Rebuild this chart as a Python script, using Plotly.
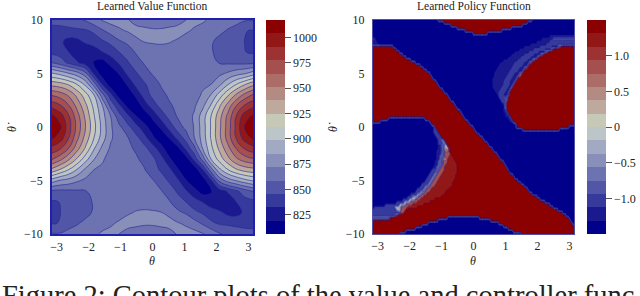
import numpy as np
import plotly.graph_objects as go

TITLE_VALUE = "Learned Value Function"
TITLE_POLICY = "Learned Policy Function"
CAPTION = "Figure 2: Contour plots of the value and controller func"
BAND_COLORS = ["#00008b", "#1a1a8e", "#363a9c", "#5156a6", "#6d72b0", "#888fb9", "#a2a9c3", "#bcc6c8",
               "#c6c8b8", "#bfa99d", "#b48b82", "#ac6d68", "#a64f4f", "#9c3232", "#921717", "#8b0000"]

THETA_VALUE = [-np.pi + k * np.pi / 12 for k in range(25)]
THETADOT_VALUE = list(range(-10, 11))

V_P10 = [850,851,853,856,860,868,873,877,877,873,868,866,864,864,866,869,872,874,873.5,870,865,863,862,860,860]
V_P9 = [841,841,842,843,844,848,857,864,870,873,876,875,874,874,875,875,873,871,868,865,861,858,855,846,845]
V_P8 = [839,835,828,829,835,839,844,849,857,862,869,872.5,873.5,873.5,872.5,871,869,866,864,860,856,854,851,845.5,844]
V_P7 = [842,840,832.5,825,822,825,832,838,845.5,851,860,864,866,868,869,868.5,868,866,864,860,855,853,851,846,844]
V_P6 = [859,852,843,834,826,818,813,824,834,844,852,860,864,867,868,869,869,868,867,860,858.5,857,856,855.5,856]
V_P5 = [900,894,886,878,863,831,812,808,820,835,844,852,860,864,867,868,869,869,868.5,868,869,874,880,884,892]
V_P4 = [933,930,923,911,895,866,832,810,807,821,836,844,851,860,864,866,867,868,869,872,882,897,911,923,934]
V_P3 = [963,958,949,934,917,899,864,837,812,808,822,838,849,855,861,864,865,866,874,886,904,923,940,955,966]
V_P2 = [986,979,965,947,928,908,886,855,836,815,809,825,839,850,857,862,865,870,882,900,923,943,964,979,987]
V_P1 = [1007,997,979,957,935,913,891,872,851,837,820,810,822,838,850,860,865,874,892,912,933,955,978,998,1006]
V_0 = [1015,1006,983,960,938,916,894,874,862,850,838,824,812,821,838,852,863,873,892,913,935,957,981,1005,1015]
V_M1 = [1006,998,978,955,933,912,892,874,865,860,850,838,822,810,820,837,851,872,891,913,935,957,979,997,1007]
V_M2 = [987,979,964,943,923,900,882,870,865,862,857,850,839,825,809,815,836,855,886,908,928,947,965,979,986]
V_M3 = [966,955,940,923,904,886,874,866,865,864,861,855,849,838,822,808,812,837,864,899,917,934,949,958,963]
V_M4 = [934,923,911,897,882,872,869,868,867,866,864,860,851,844,836,821,807,810,832,866,895,911,923,930,933]
V_M5 = [892,884,880,874,869,868,868.5,869,869,868,867,864,860,852,844,835,820,808,812,831,863,878,886,894,900]
V_M6 = [856,855.5,856,857,858.5,860,867,868,869,869,868,867,864,860,852,844,834,824,813,818,826,834,843,852,859]
V_M7 = [844,846,851,853,855,860,864,866,868,868.5,869,868,866,864,860,851,845.5,838,832,825,822,825,832.5,840,842]
V_M8 = [844,845.5,851,854,856,860,864,866,869,871,872.5,873.5,873.5,872.5,869,862,857,849,844,839,835,829,828,835,839]
V_M9 = [845,846,855,858,861,865,868,871,873,875,875,874,874,875,876,873,870,864,857,848,844,843,842,841,841]
V_M10 = [860,860,862,863,865,870,873.5,874,872,869,866,864,864,866,868,873,877,877,873,868,860,856,853,851,850]
VALUE_ROWS = [V_M10, V_M9, V_M8, V_M7, V_M6, V_M5, V_M4, V_M3, V_M2, V_M1, V_0,
              V_P1, V_P2, V_P3, V_P4, V_P5, V_P6, V_P7, V_P8, V_P9, V_P10]

# Policy: for each theta-dot row, runs of (theta where the run ends, action value) read left to right
B, R = -1.5, 1.5
POLICY_RUNS = {
    10.0: [(-1.11, B), (1.82, R), (4, B)],
    9.75: [(-0.92, B), (1.68, R), (4, B)],
    9.5: [(-0.74, B), (1.51, R), (4, B)],
    9.25: [(-0.53, B), (1.19, R), (4, B)],
    9.0: [(-0.27, B), (0.88, R), (4, B)],
    8.75: [(-0.03, B), (0.41, R), (4, B)],
    8.5: [(2.40, B), (4, -1.2)],
    8.25: [(-3.05, -1.1), (2.14, B), (2.50, -1.2), (4, -0.9)],
    8.0: [(-3.0, -1.2), (1.96, B), (2.40, -1.25), (4, -1.0)],
    7.75: [(-2.95, -1.2), (1.77, B), (2.29, -1.25), (2.71, -1.0), (4, -1.1)],
    7.5: [(-2.54, R), (1.56, B), (2.08, -1.25), (2.45, -1.0), (2.63, -1.2), (2.71, 0.8), (4, R)],
    7.25: [(-2.44, R), (1.42, B), (1.90, -1.25), (2.24, -1.0), (2.45, -1.2), (2.50, 0.8), (4, R)],
    7.0: [(-2.34, R), (1.30, B), (1.72, -1.25), (2.03, -1.0), (2.24, -1.2), (2.31, 0.8), (4, R)],
    6.75: [(-2.22, R), (1.19, B), (1.58, -1.25), (1.90, -1.0), (2.10, -1.2), (2.17, 0.8), (4, R)],
    6.5: [(-2.10, R), (1.09, B), (1.46, -1.25), (1.77, -1.0), (1.96, -1.2), (2.03, 0.8), (4, R)],
    6.25: [(-1.97, R), (0.95, B), (1.37, -1.25), (1.66, -1.0), (1.85, -1.2), (1.93, 0.8), (4, R)],
    6.0: [(-1.82, R), (0.83, B), (1.30, -1.25), (1.58, -1.0), (1.75, -1.2), (1.82, 0.8), (4, R)],
    5.75: [(-1.69, R), (0.77, B), (1.24, -1.25), (1.51, -1.0), (1.66, -1.2), (1.74, 0.8), (4, R)],
    5.5: [(-1.56, R), (0.72, B), (1.17, -1.25), (1.43, -1.0), (1.59, -1.2), (1.66, 0.8), (4, R)],
    5.25: [(-1.47, R), (0.68, B), (1.13, -1.25), (1.36, -1.0), (1.51, -1.2), (1.58, 0.8), (4, R)],
    5.0: [(-1.37, R), (0.64, B), (1.09, -1.25), (1.30, -1.0), (1.43, -1.2), (1.51, 0.8), (4, R)],
    4.75: [(-1.31, R), (0.61, B), (1.04, -1.25), (1.25, -1.0), (1.38, -1.2), (1.46, 0.8), (4, R)],
    4.5: [(-1.26, R), (0.59, B), (0.98, -1.25), (1.19, -1.0), (1.33, -1.2), (1.40, 0.8), (4, R)],
    4.25: [(-1.18, R), (0.58, B), (0.94, -1.25), (1.15, -1.0), (1.27, -1.2), (1.34, 0.8), (4, R)],
    4.0: [(-1.11, R), (0.57, B), (0.91, -1.25), (1.12, -1.0), (1.21, -1.2), (1.28, 0.8), (4, R)],
    3.75: [(-1.05, R), (0.59, B), (0.87, -1.25), (1.08, -1.0), (1.17, -1.2), (1.24, 0.8), (4, R)],
    3.5: [(-0.97, R), (0.62, B), (0.83, -1.25), (1.04, -1.0), (1.13, -1.2), (1.19, 0.8), (4, R)],
    3.25: [(-0.91, R), (0.67, B), (0.80, -1.25), (0.99, -1.0), (1.09, -1.2), (1.15, 0.8), (4, R)],
    3.0: [(-0.84, R), (0.72, B), (0.77, -1.25), (0.95, -1.0), (1.06, -1.2), (1.12, 0.8), (4, R)],
    2.75: [(-0.77, R), (0.77, B), (0.91, -1.1), (1.02, -0.9), (1.09, 0.8), (4, R)],
    2.5: [(-0.70, R), (0.83, B), (0.96, -1.1), (1.02, -0.8), (1.07, 0.8), (4, R)],
    2.25: [(-0.64, R), (0.87, B), (0.99, -1.1), (1.05, 0.7), (4, R)],
    2.0: [(-0.58, R), (0.91, B), (0.98, -1.2), (1.04, 0.6), (4, R)],
    1.75: [(-0.50, R), (0.93, B), (0.99, -1.2), (1.04, 0.5), (4, R)],
    1.5: [(-0.42, R), (0.95, B), (1.05, -1.2), (4, R)],
    1.25: [(-0.37, R), (0.97, B), (1.08, -1.2), (4, R)],
    1.0: [(-0.31, R), (0.99, B), (1.12, -1.2), (4, R)],
    0.75: [(-2.68, R), (-1.53, B), (-0.25, R), (1.06, B), (1.16, -1.2), (4, R)],
    0.5: [(-2.94, R), (-1.35, B), (-0.18, R), (1.12, B), (1.23, -1.2), (4, R)],
    0.25: [(-1.30, B), (-0.12, R), (1.28, B), (1.32, -1.2), (4, R)],
    0.0: [(-1.29, B), (-1.21, -1.1), (-0.04, R), (1.35, B), (3.0, R), (4, B)],
    -0.25: [(-1.27, B), (-1.17, -1.1), (0.03, R), (1.51, B), (2.70, R), (4, B)],
    -0.5: [(-1.25, B), (-1.14, -1.1), (0.10, R), (4, B)],
    -0.75: [(-1.20, B), (-1.09, -1.1), (0.18, R), (4, B)],
    -1.0: [(-1.16, B), (-1.04, -1.1), (0.26, R), (4, B)],
    -1.25: [(-1.14, B), (-1.00, -1.05), (-0.90, -0.7), (0.34, R), (4, B)],
    -1.5: [(-1.12, B), (-0.95, -1.0), (-0.85, -0.7), (0.41, R), (4, B)],
    -1.75: [(-1.13, B), (-1.00, -1.2), (-0.90, -0.8), (-0.82, 0.2), (0.49, R), (4, B)],
    -2.0: [(-1.14, B), (-1.04, -1.2), (-0.93, -0.9), (-0.79, 0.3), (0.57, R), (4, B)],
    -2.25: [(-1.15, B), (-1.04, -1.2), (-0.92, -0.9), (-0.75, 0.7), (0.64, R), (4, B)],
    -2.5: [(-1.16, B), (-1.04, -1.2), (-0.90, -0.8), (-0.72, 0.9), (0.72, R), (4, B)],
    -2.75: [(-1.17, B), (-1.06, -1.2), (-0.93, -0.8), (-0.76, 0.8), (-0.68, 1.2), (0.79, R), (4, B)],
    -3.0: [(-1.19, B), (-1.08, -1.2), (-0.95, -0.8), (-0.81, 0.7), (-0.64, 1.2), (0.85, R), (4, B)],
    -3.25: [(-1.21, B), (-1.10, -1.2), (-0.97, -0.8), (-0.84, 0.8), (-0.58, 1.2), (0.91, R), (4, B)],
    -3.5: [(-1.24, B), (-1.12, -1.2), (-0.99, -0.8), (-0.87, 0.8), (-0.53, 1.2), (0.97, R), (4, B)],
    -3.75: [(-1.28, B), (-1.15, -1.15), (-1.03, -0.8), (-0.90, 0.8), (-0.52, 1.2), (1.04, R), (4, B)],
    -4.0: [(-1.32, B), (-1.19, -1.1), (-1.08, -0.8), (-0.93, 0.8), (-0.51, 1.2), (1.09, R), (4, B)],
    -4.25: [(-1.37, B), (-1.24, -1.1), (-1.12, -0.75), (-0.98, 0.8), (-0.53, 1.2), (1.15, R), (4, B)],
    -4.5: [(-1.42, B), (-1.29, -1.1), (-1.16, -0.7), (-1.02, 0.8), (-0.55, 1.2), (1.21, R), (4, B)],
    -4.75: [(-1.47, B), (-1.34, -1.1), (-1.20, -0.7), (-1.07, 0.8), (-0.58, 1.2), (1.30, R), (4, B)],
    -5.0: [(-1.53, B), (-1.39, -1.1), (-1.25, -0.7), (-1.12, 0.8), (-0.62, 1.2), (1.38, R), (4, B)],
    -5.25: [(-1.60, B), (-1.44, -1.1), (-1.32, -0.7), (-1.18, 0.8), (-0.65, 1.2), (1.48, R), (4, B)],
    -5.5: [(-1.68, B), (-1.50, -1.1), (-1.39, -0.7), (-1.24, 0.8), (-0.69, 1.2), (1.57, R), (4, B)],
    -5.75: [(-1.76, B), (-1.59, -1.1), (-1.46, -0.6), (-1.31, 0.8), (-0.77, 1.2), (1.66, R), (4, B)],
    -6.0: [(-1.84, B), (-1.68, -1.1), (-1.53, -0.6), (-1.39, 0.8), (-0.85, 1.2), (1.75, R), (4, B)],
    -6.25: [(-1.96, B), (-1.79, -1.1), (-1.62, -0.5), (-1.47, 0.8), (-0.94, 1.2), (1.85, R), (4, B)],
    -6.5: [(-2.08, B), (-1.90, -1.1), (-1.71, -0.4), (-1.56, 0.8), (-1.04, 1.2), (1.96, R), (4, B)],
    -6.75: [(-2.24, B), (-2.03, -1.1), (-1.84, -0.3), (-1.66, 0.8), (-1.20, 1.2), (2.08, R), (4, B)],
    -7.0: [(-2.40, B), (-2.16, -1.1), (-1.98, -0.2), (-1.77, 0.8), (-1.37, 1.2), (2.21, R), (4, B)],
    -7.25: [(-2.75, B), (-2.32, -1.1), (-2.12, -0.2), (-1.92, 0.85), (-1.57, 1.2), (2.36, R), (4, B)],
    -7.5: [(-3.10, B), (-2.47, -1.1), (-2.26, -0.2), (-2.08, 0.9), (-1.77, 1.2), (2.50, R), (4, B)],
    -7.75: [(-2.40, -1.1), (-2.25, -0.2), (-2.12, 0.9), (2.63, R), (4, B)],
    -8.0: [(-2.31, -1.0), (-2.16, 0.9), (2.76, R), (4, B)],
    -8.25: [(-2.45, -0.95), (-2.35, 0.9), (2.87, R), (4, B)],
    -8.5: [(-2.63, -0.9), (-0.80, R), (0.20, B), (2.97, R), (4, B)],
    -8.75: [(-1.11, R), (0.51, B), (3.03, R), (4, B)],
    -9.0: [(-1.42, R), (0.77, B), (3.08, R), (4, B)],
    -9.25: [(-1.63, R), (0.91, B), (4, R)],
    -9.5: [(-1.84, R), (1.06, B), (4, R)],
    -9.75: [(-2.13, R), (1.25, B), (4, R)],
    -10.0: [(-2.31, R), (1.46, B), (4, R)],
}

THETA_POLICY = np.append(np.arange(-np.pi, np.pi, 0.05), np.pi)
THETADOT_POLICY = sorted(POLICY_RUNS)
policy_rows = []
for row_t in THETADOT_POLICY:
    ends = [e for e, _ in POLICY_RUNS[row_t]]
    vals = [v for _, v in POLICY_RUNS[row_t]]
    idx = np.searchsorted(ends, THETA_POLICY)
    policy_rows.append([vals[i] for i in idx])

W, H = 640, 296
colorscale = [[i / 15, c] for i, c in enumerate(BAND_COLORS)]
SERIF = "Liberation Serif"
LINE = "rgba(35,35,150,0.75)"


def add_panel(fig, x, y, z, xa, ya, zmin, zmax, size, cb_x, cb_ticks, lw, smooth):
    start = zmin + size
    end = zmax - size
    fig.add_trace(go.Contour(
        x=x, y=y, z=z, xaxis=xa, yaxis=ya, zmin=zmin, zmax=zmax, zauto=False,
        colorscale=colorscale, contours=dict(start=start, end=end, size=size, coloring="fill"),
        line=dict(width=0, smoothing=smooth), hoverinfo="skip",
        colorbar=dict(x=cb_x / W, xanchor="left", xpad=0, ypad=0,
                      y=1 - 127 / H, yanchor="middle", len=214 / H, lenmode="fraction",
                      thickness=19, thicknessmode="pixels", outlinewidth=0,
                      ticks="outside", ticklen=6, tickwidth=1, tickcolor="#555555",
                      tickfont=dict(family=SERIF, size=12, color="#222222"), **cb_ticks),
    ))
    fig.add_trace(go.Contour(
        x=x, y=y, z=z, xaxis=xa, yaxis=ya, zmin=zmin, zmax=zmax, zauto=False,
        showscale=False, autocontour=False,
        contours=dict(start=start, end=end, size=size, coloring="none"),
        line=dict(width=lw, color=LINE, smoothing=smooth), hoverinfo="skip",
    ))


fig = go.Figure()
add_panel(fig, THETA_VALUE, THETADOT_VALUE, VALUE_ROWS, "x", "y", 806, 1017.2, 13.2, 266,
          dict(tick0=825, dtick=25), 0.8, 1.3)
add_panel(fig, THETA_POLICY, THETADOT_POLICY, policy_rows, "x2", "y2", -1.5, 1.5, 0.1875, 587,
          dict(tickmode="array", tickvals=[-1, -0.5, 0, 0.5, 1],
               ticktext=["\u22121.0", "\u22120.5", "0", "0.5", "1.0"]), 0.3, 0)

axis_common = dict(
    showgrid=False, zeroline=False, ticks="outside", tickcolor="rgba(0,0,0,0)",
    tickfont=dict(family=SERIF, size=12, color="#222222"), mirror=True, showline=True,
)
XT = [-3, -2, -1, 0, 1, 2, 3]
YT = [-10, -5, 0, 5, 10]
fig.update_layout(
    width=W, height=H, margin=dict(l=0, r=0, t=0, b=0, autoexpand=False),
    paper_bgcolor="white", plot_bgcolor="white", showlegend=False,
    xaxis=dict(domain=[52 / W, 253 / W], range=[-np.pi, np.pi], tickvals=XT, ticklen=1,
               linecolor="#2020b0", linewidth=1.5, anchor="y", **axis_common),
    yaxis=dict(domain=[1 - 234 / H, 1 - 20 / H], range=[-10, 10], tickvals=YT, ticklen=5,
               linecolor="#2020b0", linewidth=1.5, anchor="x", **axis_common),
    xaxis2=dict(domain=[373 / W, 574 / W], range=[-np.pi, np.pi], tickvals=XT, ticklen=1,
                linecolor="#5050a8", linewidth=1, anchor="y2", **axis_common),
    yaxis2=dict(domain=[1 - 234 / H, 1 - 20 / H], range=[-10, 10], tickvals=YT, ticklen=5,
                linecolor="#5050a8", linewidth=1, anchor="x2", **axis_common),
)


def note(text, px, py, size, **kw):
    fig.add_annotation(text=text, xref="paper", yref="paper", x=px / W, y=1 - py / H,
                       showarrow=False, font=dict(family=SERIF, size=size, color="#222222"), **kw)


note(TITLE_VALUE, 152.5, 6, 11.5, xanchor="center", yanchor="middle")
note(TITLE_POLICY, 473.5, 6, 11.5, xanchor="center", yanchor="middle")
note("<i>\u03b8</i>", 152, 261, 12, xanchor="center", yanchor="middle")
note("<i>\u03b8</i>", 473, 261, 12, xanchor="center", yanchor="middle")
note("<i>\u03b8\u0307</i>", 12, 127, 12, xanchor="center", yanchor="middle", textangle=-90)
note("<i>\u03b8\u0307</i>", 333, 127, 12, xanchor="center", yanchor="middle", textangle=-90)
note(CAPTION, 0, 277.5, 28.5, xanchor="left", yanchor="top")

fig.write_html("out.html", config=dict(displayModeBar=False),
               post_script="document.body.style.margin='0';document.body.style.overflow='hidden';")
